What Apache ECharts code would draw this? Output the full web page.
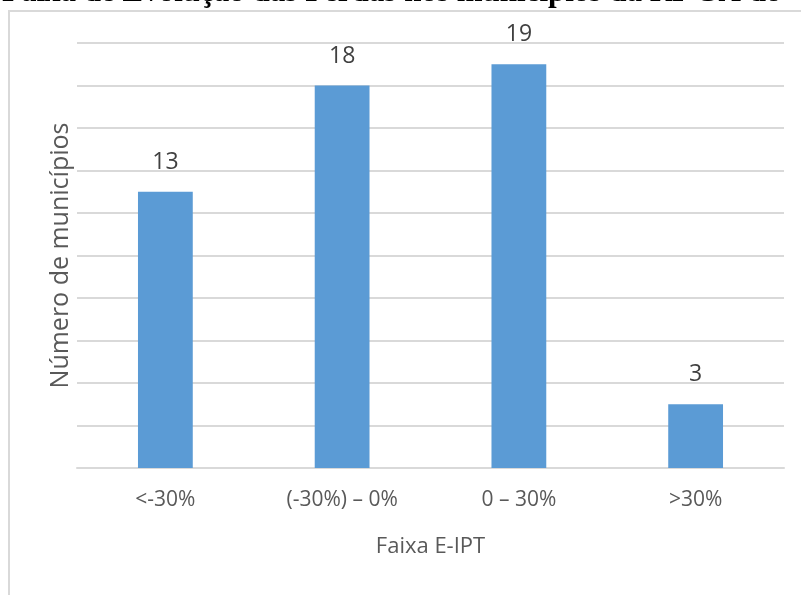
<!DOCTYPE html>
<html>
<head>
<meta charset="utf-8">
<style>
  html, body { margin: 0; padding: 0; background: #fff; }
  #chart { width: 801px; height: 595px; }
</style>
<script src="https://cdn.jsdelivr.net/npm/echarts@6/dist/echarts.min.js"></script>
</head>
<body>
<div id="chart"></div>
<script>
// Faixas de evolução (E-IPT) e número de municípios em cada faixa
const categories = ['<-30%', '(-30%) – 0%', '0 – 30%', '>30%'];
const municipios = [13, 18, 19, 3];
const titleText = 'Faixa de Evolução das Perdas nos municípios da RI-GA do';

const labelFont = '"Open Sans", sans-serif';
const chart = echarts.init(document.getElementById('chart'), null, { renderer: 'canvas' });

chart.setOption({
  animation: false,
  backgroundColor: '#ffffff',
  title: {
    text: titleText,
    left: -3,
    top: -28,
    textStyle: {
      fontFamily: '"Liberation Serif", "DejaVu Serif", serif',
      fontWeight: 'bold',
      fontSize: 31,
      color: '#000'
    }
  },
  graphic: [{
    type: 'rect',
    z: -1,
    shape: { x: 9, y: 11, width: 820, height: 620 },
    style: { fill: 'none', stroke: '#d9d9d9', lineWidth: 2 }
  }],
  grid: { left: 77, right: 17, top: 43, bottom: 127, containLabel: false },
  xAxis: {
    type: 'category',
    data: categories,
    axisLine: { show: true, lineStyle: { color: '#d9d9d9', width: 2 } },
    axisTick: { show: false },
    axisLabel: { color: '#595959', fontSize: 21, fontFamily: labelFont, margin: 22 },
    name: 'Faixa E-IPT',
    nameLocation: 'middle',
    nameGap: 68,
    nameTextStyle: { color: '#595959', fontSize: 22, fontFamily: labelFont }
  },
  yAxis: {
    type: 'value',
    min: 0,
    max: 20,
    interval: 2,
    axisLine: { show: false },
    axisTick: { show: false },
    axisLabel: { show: false },
    splitLine: { lineStyle: { color: '#d9d9d9', width: 2 } },
    name: 'Número de municípios',
    nameLocation: 'middle',
    nameGap: 4,
    nameTextStyle: { color: '#595959', fontSize: 25, fontFamily: labelFont }
  },
  series: [{
    type: 'bar',
    data: municipios,
    barWidth: '31%',
    itemStyle: { color: '#5b9bd5' },
    label: {
      show: true,
      position: 'top',
      distance: 18,
      color: '#404040',
      fontSize: 23,
      fontFamily: labelFont
    }
  }]
});
</script>
</body>
</html>
